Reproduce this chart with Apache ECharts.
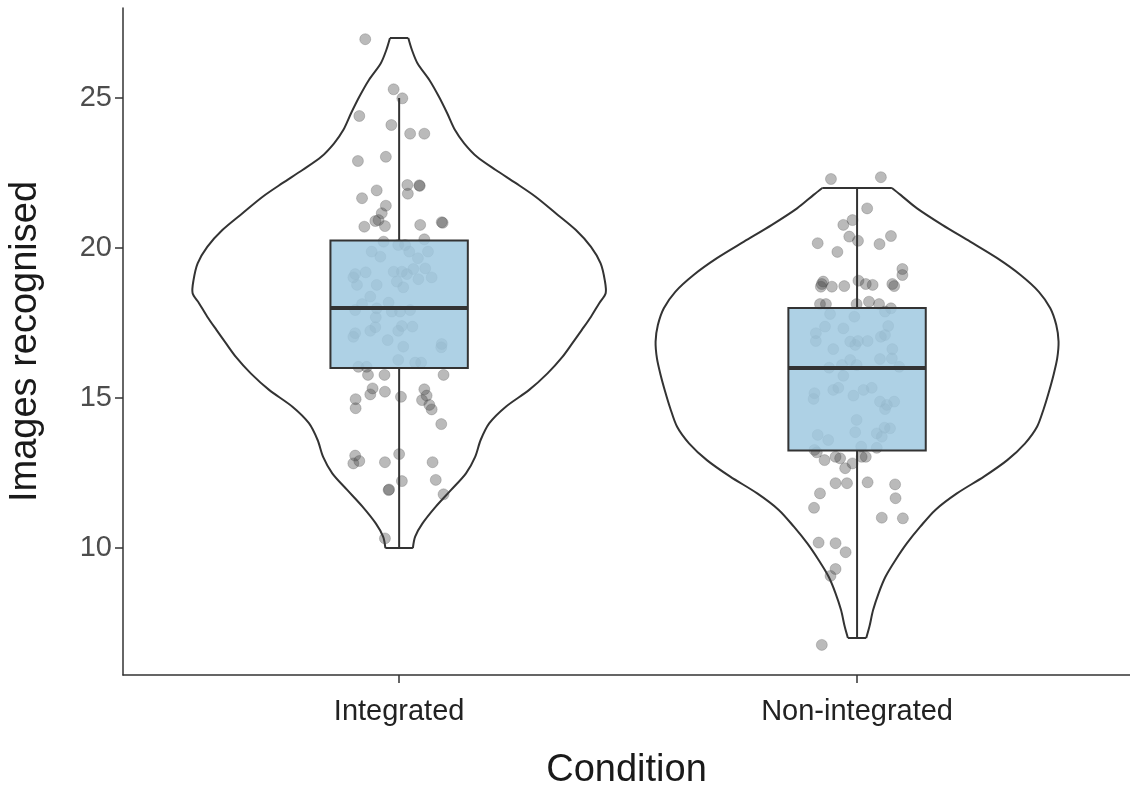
<!DOCTYPE html>
<html>
<head>
<meta charset="utf-8">
<script src="https://cdn.jsdelivr.net/npm/echarts@6/dist/echarts.min.js"></script>
<style>
html,body{margin:0;padding:0;background:#fff;}
#chart{width:1130px;height:792px;}
</style>
</head>
<body>
<div id="chart"></div>
<script>
// ---- data ----
const categories = ['Integrated', 'Non-integrated'];
const yTicks = [10, 15, 20, 25];

// violin outline: [value, half-width in category units]
const violinIntegrated = [
  [10.0,0.030],[10.38,0.035],[10.82,0.051],[11.38,0.080],[11.93,0.113],[12.49,0.146],
  [13.04,0.166],[13.6,0.178],[14.16,0.197],[14.71,0.233],[15.27,0.284],[15.82,0.324],
  [16.38,0.357],[16.82,0.378],[17.27,0.399],[17.71,0.419],[18.16,0.437],[18.49,0.451],
  [18.93,0.449],[19.49,0.440],[20.04,0.419],[20.6,0.386],[21.16,0.342],[21.71,0.298],
  [22.16,0.255],[22.6,0.211],[23.04,0.170],[23.49,0.142],[23.93,0.122],[24.49,0.105],
  [25.04,0.087],[25.6,0.066],[26.16,0.040],[26.6,0.028],[27.0,0.020]
];
const violinNonIntegrated = [
  [7.0,0.020],[7.38,0.027],[7.93,0.035],[8.49,0.047],[9.04,0.062],[9.6,0.084],
  [10.16,0.109],[10.71,0.138],[11.27,0.171],[11.82,0.218],[12.38,0.277],[12.93,0.328],
  [13.49,0.367],[14.04,0.393],[14.66,0.408],[15.21,0.419],[15.77,0.429],[16.32,0.437],
  [16.88,0.440],[17.43,0.435],[17.99,0.422],[18.54,0.397],[19.1,0.357],[19.66,0.306],
  [20.21,0.247],[20.77,0.186],[21.32,0.131],[21.77,0.095],[22.0,0.076]
];

// box: [lower whisker, Q1, median, Q3, upper whisker]
const boxIntegrated = [10, 16, 18, 20.25, 25];
const boxNonIntegrated = [7, 13.25, 16, 18, 22];

// jittered points: [horizontal jitter offset, value]
const pointsIntegrated = [
  [-0.074,26.96],[-0.012,25.29],[0.007,24.99],[-0.087,24.4],[-0.017,24.1],[0.024,23.81],
  [0.055,23.81],[-0.090,22.9],[-0.029,23.04],[0.018,22.1],[0.044,22.09],[0.045,22.07],
  [-0.049,21.92],[0.019,21.81],[-0.081,21.66],[-0.029,21.41],[-0.038,21.16],[-0.052,20.9],
  [-0.045,20.93],[-0.031,20.73],[-0.076,20.71],[0.046,20.77],[0.093,20.86],[0.095,20.84],
  [-0.034,20.21],[0.055,20.29],[-0.060,19.88],[-0.041,19.71],[-0.002,20.1],[0.013,20.1],
  [0.022,19.88],[0.041,19.66],[0.063,19.88],[0.057,19.32],[0.031,19.3],[0.071,19.02],
  [0.042,18.96],[-0.096,19.13],[-0.100,19.02],[-0.073,19.19],[-0.092,18.77],[-0.049,18.77],
  [-0.012,19.21],[0.006,19.21],[0.017,19.13],[-0.005,18.88],[0.009,18.69],[-0.063,18.38],
  [-0.023,18.18],[-0.081,18.13],[-0.096,17.93],[-0.049,17.99],[-0.016,17.88],[0.002,17.88],
  [0.024,17.93],[-0.051,17.69],[-0.052,17.36],[-0.063,17.24],[0.006,17.4],[-0.002,17.24],
  [0.029,17.38],[-0.096,17.16],[-0.100,17.04],[-0.025,16.93],[0.009,16.71],[0.093,16.8],
  [0.092,16.69],[-0.002,16.27],[0.035,16.18],[0.048,16.18],[-0.089,16.04],[-0.071,16.04],
  [-0.068,15.77],[-0.032,15.77],[0.097,15.77],[-0.058,15.32],[-0.063,15.12],[-0.031,15.21],
  [-0.095,14.96],[-0.095,14.66],[0.004,15.04],[0.055,15.29],[0.060,15.08],[0.050,14.93],
  [0.066,14.77],[0.071,14.62],[0.092,14.13],[-0.096,13.08],[-0.100,12.82],[-0.087,12.9],
  [-0.031,12.86],[0.000,13.13],[0.073,12.86],[0.006,12.23],[0.080,12.27],[-0.023,11.93],
  [-0.022,11.95],[0.097,11.79],[-0.031,10.32]
];
const pointsNonIntegrated = [
  [-0.057,22.3],[0.052,22.36],[0.022,21.32],[-0.010,20.93],[-0.030,20.77],[-0.017,20.38],
  [0.002,20.24],[-0.086,20.16],[-0.043,19.87],[0.049,20.13],[0.074,20.4],[0.099,19.3],
  [0.099,19.1],[-0.074,18.88],[-0.077,18.8],[-0.079,18.71],[-0.055,18.71],[-0.028,18.73],
  [0.003,18.91],[0.019,18.8],[0.034,18.77],[0.077,18.8],[0.081,18.73],[-0.081,18.13],
  [-0.068,18.13],[-0.001,18.13],[0.026,18.21],[0.048,18.13],[0.074,17.99],[-0.059,17.8],
  [-0.006,17.71],[0.061,17.88],[-0.070,17.38],[-0.030,17.32],[0.068,17.4],[-0.090,17.16],
  [-0.090,16.9],[-0.052,16.63],[-0.015,16.88],[0.002,16.9],[-0.004,16.77],[0.023,16.9],
  [0.052,17.04],[0.061,17.1],[0.077,16.63],[-0.061,16.01],[-0.033,16.1],[-0.015,16.27],
  [-0.030,15.74],[-0.001,16.1],[0.050,16.3],[0.076,16.32],[0.092,16.04],[-0.093,15.16],
  [-0.095,14.97],[-0.052,15.27],[-0.041,15.34],[-0.008,15.08],[0.014,15.27],[0.032,15.34],
  [0.050,14.88],[0.065,14.77],[0.061,14.63],[0.081,14.88],[-0.001,14.27],[-0.086,13.77],
  [-0.063,13.6],[-0.004,13.86],[0.043,13.82],[0.054,13.71],[0.060,14.01],[0.072,13.99],
  [-0.093,13.27],[-0.088,13.19],[-0.071,12.93],[-0.047,13.04],[-0.037,12.99],[-0.010,12.82],
  [-0.026,12.66],[0.009,13.38],[0.010,13.04],[0.019,13.04],[0.043,13.34],[-0.047,12.16],
  [-0.022,12.16],[0.023,12.19],[0.083,12.12],[-0.081,11.82],[-0.094,11.34],[0.084,11.66],
  [0.054,11.01],[0.100,10.99],[-0.084,10.18],[-0.047,10.16],[-0.025,9.86],[-0.047,9.3],
  [-0.058,9.07],[-0.077,6.77]
];

// ---- build ----
const violins = [violinIntegrated, violinNonIntegrated];
const boxes = [boxIntegrated, boxNonIntegrated];
const pointSets = [pointsIntegrated, pointsNonIntegrated];
const BOX_HALF = 0.15;
const LINE = '#333333';
const FONT = 'Liberation Sans, Arial, sans-serif';

const violinData = violins.map((v, i) => [i + 1, i]);
const boxData = boxes.map((b, i) => [i + 1].concat(b));
const scatterData = [];
pointSets.forEach((ps, i) => ps.forEach(p => scatterData.push([i + 1 + p[0], p[1]])));

function renderViolin(params, api) {
  const gx = api.value(0);
  const prof = violins[api.value(1)];
  const right = prof.map(r => api.coord([gx + r[1], r[0]]));
  const left = prof.map(r => api.coord([gx - r[1], r[0]]));
  const n = prof.length - 1;
  const st = { stroke: LINE, lineWidth: 2, fill: null, lineJoin: 'round' };
  return {
    type: 'group',
    children: [
      { type: 'polyline', shape: { points: right, smooth: 0.3 }, style: st },
      { type: 'polyline', shape: { points: left, smooth: 0.3 }, style: st },
      { type: 'line', shape: { x1: left[0][0], y1: left[0][1], x2: right[0][0], y2: right[0][1] }, style: st },
      { type: 'line', shape: { x1: left[n][0], y1: left[n][1], x2: right[n][0], y2: right[n][1] }, style: st }
    ]
  };
}

function renderBox(params, api) {
  const gx = api.value(0);
  const lo = api.value(1), q1 = api.value(2), med = api.value(3), q3 = api.value(4), hi = api.value(5);
  const pL = api.coord([gx - BOX_HALF, q3]);
  const pR = api.coord([gx + BOX_HALF, q1]);
  const mL = api.coord([gx - BOX_HALF, med]);
  const mR = api.coord([gx + BOX_HALF, med]);
  const wTop = api.coord([gx, hi]);
  const wQ3 = api.coord([gx, q3]);
  const wQ1 = api.coord([gx, q1]);
  const wBot = api.coord([gx, lo]);
  return {
    type: 'group',
    children: [
      { type: 'line', shape: { x1: wTop[0], y1: wTop[1], x2: wQ3[0], y2: wQ3[1] }, style: { stroke: LINE, lineWidth: 2 } },
      { type: 'line', shape: { x1: wQ1[0], y1: wQ1[1], x2: wBot[0], y2: wBot[1] }, style: { stroke: LINE, lineWidth: 2 } },
      { type: 'rect', shape: { x: pL[0], y: pL[1], width: pR[0] - pL[0], height: pR[1] - pL[1] },
        style: { fill: 'rgba(160,201,225,0.85)', stroke: LINE, lineWidth: 2 } },
      { type: 'line', shape: { x1: mL[0], y1: mL[1], x2: mR[0], y2: mR[1] }, style: { stroke: LINE, lineWidth: 4 } }
    ]
  };
}

const chart = echarts.init(document.getElementById('chart'), null, { renderer: 'canvas' });
chart.setOption({
  animation: false,
  backgroundColor: '#ffffff',
  grid: { left: 123, right: 0, top: 8, bottom: 117, containLabel: false, outerBoundsMode: 'none' },
  xAxis: {
    type: 'value',
    min: 0.397,
    max: 2.596,
    name: 'Condition',
    nameLocation: 'middle',
    nameGap: 77,
    nameTextStyle: { fontSize: 38, color: '#1a1a1a', fontFamily: FONT },
    axisLine: { show: true, onZero: false, lineStyle: { color: LINE, width: 1.5 } },
    axisTick: { show: true, customValues: [1, 2], length: 8, lineStyle: { color: LINE, width: 1.5 } },
    axisLabel: {
      customValues: [1, 2],
      formatter: v => categories[Math.round(v) - 1] || '',
      fontSize: 29, color: '#222222', margin: 22, fontFamily: FONT
    },
    splitLine: { show: false }
  },
  yAxis: {
    type: 'value',
    min: 5.7667,
    max: 28.0,
    name: 'Images recognised',
    nameLocation: 'middle',
    nameGap: 78,
    nameTextStyle: { fontSize: 38, color: '#1a1a1a', fontFamily: FONT },
    axisLine: { show: true, onZero: false, lineStyle: { color: LINE, width: 1.5 } },
    axisTick: { show: true, customValues: yTicks, length: 8, lineStyle: { color: LINE, width: 1.5 } },
    axisLabel: { customValues: yTicks, fontSize: 29, color: '#4d4d4d', margin: 11, fontFamily: FONT },
    splitLine: { show: false }
  },
  series: [
    { type: 'custom', name: 'violin', renderItem: renderViolin, data: violinData, z: 1, silent: true, clip: false },
    { type: 'scatter', name: 'points', data: scatterData, symbol: 'circle', symbolSize: 11, z: 2, silent: true,
      itemStyle: { color: 'rgba(64,64,64,0.45)', borderColor: 'rgba(64,64,64,0.3)', borderWidth: 1 } },
    { type: 'custom', name: 'box', renderItem: renderBox, data: boxData, z: 3, silent: true }
  ]
});
</script>
</body>
</html>
